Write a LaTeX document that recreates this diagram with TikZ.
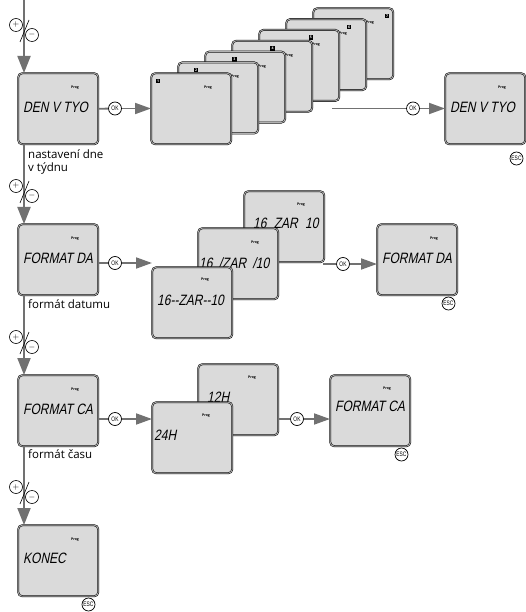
\documentclass[tikz,border=0pt]{standalone}
\usepackage{fontspec}
\setmainfont{Open Sans}
\newfontfamily\lcdfont[FakeStretch=0.8,FakeSlant=0.2]{Liberation Sans}
\newfontfamily\keyfont[FakeStretch=0.75]{Liberation Sans}
\usetikzlibrary{arrows.meta,calc}

\definecolor{lcd}{HTML}{DADADA}
\definecolor{linegray}{HTML}{717171}

\tikzset{
  screen/.style={draw=black, line width=0.5pt, double=gray!60, double distance=0.9pt,
    rounded corners=4pt, fill=lcd, minimum width=80pt, minimum height=71pt,
    anchor=north west, inner sep=0pt},
  lcdtext/.style={anchor=west, inner sep=0pt, font=\lcdfont\fontsize{15}{15}\selectfont},
  prog/.style={inner sep=0pt, font=\bfseries\fontsize{3.5}{4}\selectfont},
  daynum/.style={fill=black, text=white, inner sep=0pt, minimum size=4.5pt,
    font=\bfseries\fontsize{3.5}{4}\selectfont},
  key/.style={circle, draw=black, line width=0.7pt, fill=white, inner sep=0pt,
    minimum size=13pt, font=\keyfont\fontsize{6.5}{6.5}\selectfont},
  pmkey/.style={circle, draw=black, line width=0.6pt, fill=white, inner sep=0pt,
    minimum size=13pt, font=\fontsize{8}{8}\selectfont},
  flow/.style={draw=linegray, line width=1.8pt},
  flowarrow/.style={flow, -{Triangle[length=16pt,width=11pt]}},
  downarrow/.style={flow, -{Triangle[length=17pt,width=13pt]}},
  note/.style={anchor=north west, align=left, inner sep=0pt,
    font=\fontsize{11.5}{12.5}\selectfont}
}

\begin{document}
\begin{tikzpicture}[x=1pt,y=-1pt]
\useasboundingbox (0,0) rectangle (526,612);

% main column
\node[screen] (m1) at (18,73) {};
\node[prog] at ($(m1.north west)+(57,15)$) {Prog};
\node[lcdtext] at ($(m1.west)+(5,-1)$) {DEN V TYO};
\node[screen] (m2) at (18,224) {};
\node[prog] at ($(m2.north west)+(57,15)$) {Prog};
\node[lcdtext] at ($(m2.west)+(5,-1.5)$) {FORMAT DA};
\node[screen] (m3) at (18,375) {};
\node[prog] at ($(m3.north west)+(57,15)$) {Prog};
\node[lcdtext] at ($(m3.west)+(5,-1)$) {FORMAT CA};
\node[screen] (m4) at (18,525) {};
\node[prog] at ($(m4.north west)+(57,15)$) {Prog};
\node[lcdtext] at ($(m4.west)+(5,-2)$) {KONEC};
\node[key] (esc4) at ($(m4.south east)+(-10,8)$) {ESC};

\node[note] (lab1) at ($(m1.south west)+(10,5)$) {nastavení dne\\v týdnu};
\node[note] (lab2) at ($(m2.south west)+(10,4)$) {formát datumu};
\node[note] (lab3) at ($(m3.south west)+(10,3)$) {formát času};

% day of week
\foreach \k in {7,6,...,1} {
  \node[screen] (d\k) at ({151+27*(\k-1)},{73-10.83*(\k-1)}) {};
  \node[prog] at ($(d\k.north west)+(57,15)$) {Prog};
  \node[daynum] at ($(d\k.north west)+({7+11.2*(\k-1)},8)$) {\k};
}
\node[screen] (e1) at (445,73) {};
\node[prog] at ($(e1.north west)+(57,15)$) {Prog};
\node[lcdtext] at ($(e1.west)+(5,-1)$) {DEN V TYO};
\node[key] (esc1) at ($(e1.south east)+(-9,14)$) {ESC};

% date format
\node[screen] (f3) at (244,191) {};
\node[prog] at ($(f3.north west)+(57,14)$) {Prog};
\node[lcdtext] at ($(f3.west)+(9,-3)$) {16\hspace{4pt} ZAR\hspace{4pt} 10};
\node[screen] (f2) at (198,228) {};
\node[prog] at ($(f2.north west)+(57,15)$) {Prog};
\node[lcdtext] at ($(f2.west)+(1,-1)$) {16\hspace{3pt} /ZAR\hspace{3pt} /10};
\node[screen] (f1) at (152,267) {};
\node[prog] at ($(f1.north west)+(53,13)$) {Prog};
\node[lcdtext] at ($(f1.west)+(5,-2)$) {16--ZAR--10};
\node[screen] (e2) at (377,224) {};
\node[prog] at ($(e2.north west)+(57,15)$) {Prog};
\node[lcdtext] at ($(e2.west)+(5,-1.5)$) {FORMAT DA};
\node[key] (esc2) at ($(e2.south east)+(-9,8)$) {ESC};

% time format
\node[screen] (t2) at (198,364) {};
\node[prog] at ($(t2.north west)+(54,14)$) {Prog};
\node[lcdtext] at ($(t2.west)+(9,-2)$) {12H};
\node[screen] (t1) at (152,402) {};
\node[prog] at ($(t1.north west)+(54,14)$) {Prog};
\node[lcdtext] at ($(t1.west)+(2,-2)$) {24H};
\node[screen] (e3) at (330,375) {};
\node[prog] at ($(e3.north west)+(57,14)$) {Prog};
\node[lcdtext] at ($(e3.west)+(5,-4)$) {FORMAT CA};
\node[key] (esc3) at ($(e3.south east)+(-9,8)$) {ESC};

% vertical flow
\coordinate (top) at (24,0);
\draw[downarrow] (top) -- (top |- m1.north);
\draw[downarrow] (top |- m1.south) -- (top |- m2.north);
\draw[downarrow] (top |- m2.south) -- (top |- m3.north);
\draw[downarrow] (top |- m3.south) -- (top |- m4.north);
\foreach \c in {30,191,342,492} {
  \node[pmkey] (plus\c) at (16,{\c-5}) {$+$};
  \node[pmkey] (minus\c) at (32,{\c+5}) {$-$};
  \draw[line width=0.6pt] (20,{\c+12}) -- (29,{\c-10});
}

% OK rows
\node[key] (ok1) at (115,108.5) {OK};
\draw[flow] (m1.east) -- (ok1);
\draw[flowarrow] (ok1) -- (ok1 -| d1.west);
\coordinate (dend) at (332,108.5);
\node[key] (ok2) at (413,108.5) {OK};
\draw[flow] (dend) -- (ok2);
\draw[flowarrow] (ok2) -- (ok2 -| e1.west);

\node[key] (ok3) at (115,263) {OK};
\draw[flow] (ok3 -| m2.east) -- (ok3);
\draw[flowarrow] (ok3) -- (ok3 -| f1.west);
\coordinate (fend) at (323,264);
\node[key] (ok4) at (343,264) {OK};
\draw[flow] (fend) -- (ok4);
\draw[flowarrow] (ok4) -- (ok4 -| e2.west);

\node[key] (ok5) at (115,419) {OK};
\draw[flow] (ok5 -| m3.east) -- (ok5);
\draw[flowarrow] (ok5) -- (ok5 -| t1.west);
\node[key] (ok6) at (297,419) {OK};
\draw[flow] (ok6 -| t2.east) -- (ok6);
\draw[flowarrow] (ok6) -- (ok6 -| e3.west);
\end{tikzpicture}
\end{document}
